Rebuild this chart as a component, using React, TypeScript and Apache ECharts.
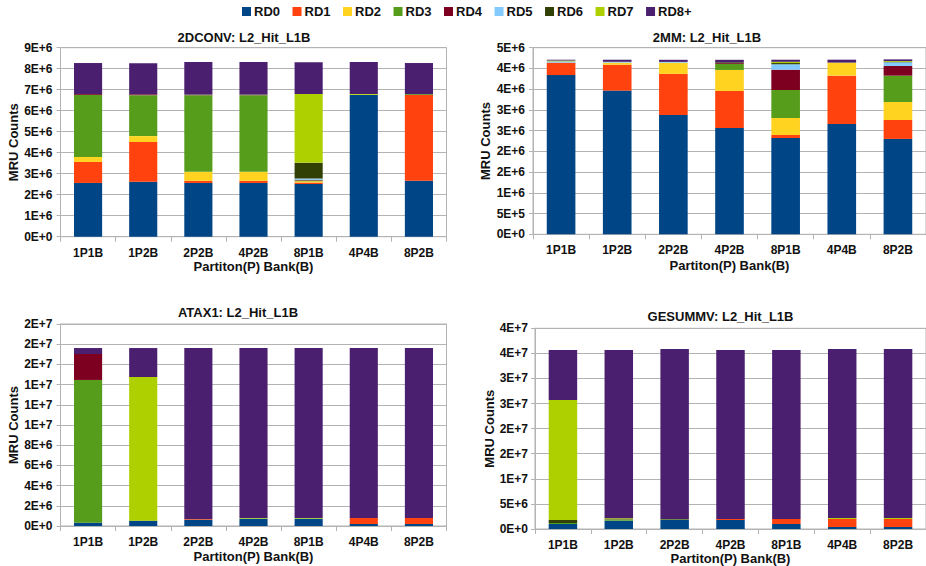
import React, { useEffect, useRef } from "react";
import * as echarts from "echarts";

// Bank / partition configurations on every x axis
const configs = ["1P1B", "1P2B", "2P2B", "4P2B", "8P1B", "4P4B", "8P2B"];
const rdNames = ["RD0", "RD1", "RD2", "RD3", "RD4", "RD5", "RD6", "RD7", "RD8+"];
const rdColors = ["#004586", "#ff420e", "#ffd320", "#579d1c", "#7e0021", "#83caff", "#314004", "#aecf00", "#4b1f6f"];

// MRU counts, in millions, one row per reuse-distance bucket (RD0 .. RD8+)
const conv2d = [
  [2.56, 2.62, 2.56, 2.56, 2.51, 6.75, 2.67],
  [1.0, 1.89, 0.1, 0.1, 0.07, 0, 4.08],
  [0.24, 0.28, 0.43, 0.43, 0.06, 0, 0],
  [2.95, 1.95, 3.65, 3.65, 0.04, 0, 0.04],
  [0.04, 0.04, 0.02, 0.02, 0.03, 0, 0],
  [0, 0, 0, 0, 0.06, 0, 0],
  [0, 0, 0.01, 0.01, 0.75, 0, 0],
  [0, 0, 0, 0, 3.27, 0.04, 0],
  [1.48, 1.48, 1.55, 1.55, 1.52, 1.53, 1.48],
];

const mm2 = [
  [3.84, 3.465, 2.878, 2.564, 2.323, 2.66, 2.3],
  [0.3, 0.625, 0.99, 0.893, 0.072, 1.166, 0.457],
  [0, 0.05, 0.27, 0.506, 0.41, 0.315, 0.433],
  [0, 0, 0, 0.145, 0.675, 0, 0.636],
  [0, 0, 0, 0.02, 0.49, 0, 0.234],
  [0.03, 0.02, 0.02, 0, 0.13, 0, 0.088],
  [0, 0, 0, 0.02, 0.03, 0, 0.01],
  [0.02, 0, 0, 0, 0.03, 0, 0.02],
  [0.02, 0.05, 0.05, 0.06, 0.05, 0.07, 0.04],
];

const atax1 = [
  [0.33, 0.53, 0.63, 0.73, 0.73, 0.2, 0.2],
  [0, 0, 0.07, 0, 0, 0.59, 0.59],
  [0, 0, 0, 0, 0, 0, 0],
  [14.13, 0, 0, 0, 0, 0, 0],
  [2.57, 0, 0, 0, 0, 0, 0],
  [0, 0, 0, 0, 0, 0, 0],
  [0, 0, 0, 0, 0, 0, 0],
  [0, 14.22, 0, 0.07, 0.07, 0, 0],
  [0.59, 2.87, 16.92, 16.82, 16.82, 16.83, 16.83],
];

const gesummv = [
  [1.0, 1.66, 1.8, 1.8, 1.0, 0.4, 0.4],
  [0, 0, 0, 0.2, 1.0, 1.6, 1.6],
  [0, 0, 0, 0, 0, 0, 0],
  [0.2, 0.2, 0.1, 0, 0, 0, 0],
  [0, 0, 0, 0, 0, 0, 0],
  [0, 0, 0, 0, 0, 0, 0],
  [0.6, 0.1, 0.1, 0, 0, 0, 0],
  [23.9, 0.2, 0, 0, 0, 0.2, 0.2],
  [9.98, 33.52, 33.88, 33.68, 33.68, 33.68, 33.68],
];

const panelTitles = ["2DCONV: L2_Hit_L1B", "2MM: L2_Hit_L1B", "ATAX1: L2_Hit_L1B", "GESUMMV: L2_Hit_L1B"];
const panelData = [conv2d, mm2, atax1, gesummv];
const axisMax = [9e6, 4.5e6, 2e7, 4e7];
const axisStep = [1e6, 5e5, 2e6, 5e6];

const FONT = "'Liberation Sans', Arial, sans-serif";
const INK = "#111";
const GRID = "#b3b3b3";

// Spreadsheet-style scientific labels: the mantissa is rounded to a whole number
function sci(v: number): string {
  if (v === 0) return "0E+0";
  let e = Math.floor(Math.log10(v) + 1e-9);
  let m = Math.round(v / Math.pow(10, e));
  if (m >= 10) {
    m = 1;
    e += 1;
  }
  return `${m}E+${e}`;
}

const grids = [
  { left: 60.5, top: 47.7, width: 386, height: 189 },
  { left: 533, top: 47.7, width: 394, height: 186.6 },
  { left: 60.5, top: 324, width: 386, height: 202 },
  { left: 535, top: 328.3, width: 392, height: 200.7 },
];
const titlePos = [
  { x: 244, y: 38.3 },
  { x: 707, y: 38 },
  { x: 238, y: 313.3 },
  { x: 720.5, y: 317.3 },
];
const xNameGap = [23.5, 25, 24, 21.5];
const yNameGap = [41, 41, 41, 39.5];
const yLabelMargin = [8, 8, 8, 7];

export default function App() {
  const ref = useRef<HTMLDivElement>(null);

  useEffect(() => {
    if (!ref.current) return;
    const chart = echarts.init(ref.current, undefined, { renderer: "svg" });

    const series: any[] = [];
    panelData.forEach((rows, c) => {
      rows.forEach((row, k) => {
        series.push({
          type: "bar",
          name: rdNames[k],
          xAxisIndex: c,
          yAxisIndex: c,
          stack: "panel" + c,
          barWidth: "51%",
          itemStyle: { color: rdColors[k] },
          data: row.map((v) => v * 1e6),
        });
      });
    });

    chart.setOption({
      animation: false,
      backgroundColor: "#fff",
      textStyle: { fontFamily: FONT },
      color: rdColors,
      title: panelTitles.map((t, i) => ({
        text: t,
        left: titlePos[i].x,
        top: titlePos[i].y - 7.5,
        textAlign: "center",
        padding: 0,
        textStyle: { fontFamily: FONT, fontSize: 13, fontWeight: "bold", color: INK },
      })),
      legend: {
        data: rdNames,
        top: 5,
        left: 242,
        icon: "rect",
        itemWidth: 9,
        itemHeight: 9,
        itemGap: 12.5,
        padding: 0,
        textStyle: { fontFamily: FONT, fontSize: 13, fontWeight: "bold", color: INK, padding: [0, 0, 0, -2] },
      },
      grid: grids.map((g) => ({ ...g, show: true, borderColor: GRID, borderWidth: 1, backgroundColor: "transparent" })),
      xAxis: grids.map((_, i) => ({
        type: "category",
        gridIndex: i,
        data: configs,
        name: "Partiton(P) Bank(B)",
        nameLocation: "middle",
        nameGap: xNameGap[i],
        nameTextStyle: { fontFamily: FONT, fontSize: 13, fontWeight: "bold", color: INK },
        axisLine: { lineStyle: { color: GRID } },
        axisTick: { show: true, length: 5, lineStyle: { color: GRID } },
        axisLabel: { margin: 10, fontFamily: FONT, fontSize: 12, fontWeight: "bold", color: INK },
      })),
      yAxis: grids.map((_, i) => ({
        type: "value",
        gridIndex: i,
        min: 0,
        max: axisMax[i],
        interval: axisStep[i],
        name: "MRU Counts",
        nameLocation: "middle",
        nameGap: yNameGap[i],
        nameTextStyle: { fontFamily: FONT, fontSize: 13, fontWeight: "bold", color: INK },
        axisLine: { show: true, lineStyle: { color: GRID } },
        axisTick: { show: true, length: 4, lineStyle: { color: GRID } },
        splitLine: { show: true, lineStyle: { color: GRID, width: 1 } },
        axisLabel: {
          margin: yLabelMargin[i],
          fontFamily: FONT,
          fontSize: 12,
          fontWeight: "bold",
          color: INK,
          formatter: (v: number) => sci(v),
        },
      })),
      series,
    });

    return () => chart.dispose();
  }, []);

  return (
    <div
      ref={ref}
      style={{ position: "absolute", left: 0, top: 0, width: 926, height: 566, background: "#fff" }}
    />
  );
}
